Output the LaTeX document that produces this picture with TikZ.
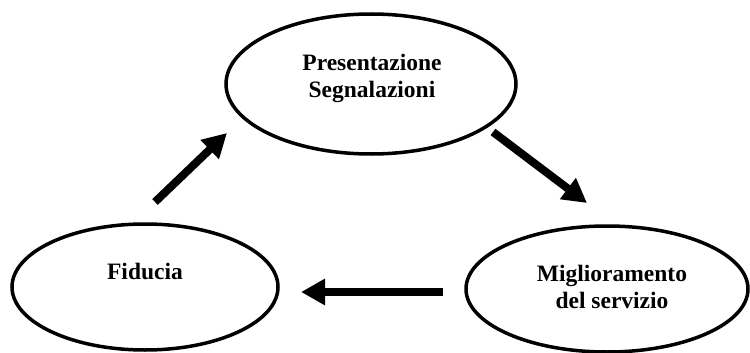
\documentclass[tikz,border=0pt]{standalone}
\usepackage{fontspec}
\setmainfont{Liberation Serif}
\usetikzlibrary{shapes.geometric,arrows.meta}
\begin{document}
\begin{tikzpicture}[x=1pt,y=-1pt,
  oval/.style={draw=black,line width=3.5pt,ellipse,inner sep=0pt},
  lbl/.style={font=\fontsize{23.5}{27}\selectfont\bfseries,align=center,inner sep=0pt},
  bigarrow/.style={line width=8pt,-{Triangle[length=24pt,width=25pt]}}]
\useasboundingbox (0,0) rectangle (750,353);
\node[oval,minimum width=290pt,minimum height=140pt] (top) at (371,84) {};
\node[oval,minimum width=266pt,minimum height=126pt] (left) at (145,287) {};
\node[oval,minimum width=282pt,minimum height=126pt] (right) at (607,289) {};
\node[lbl] (ttop) at (372,78) {Presentazione\\Segnalazioni};
\node[lbl] (tleft) at (145,271) {Fiducia};
\node[lbl] (tright) at (612,287) {Miglioramento\\del servizio};
\coordinate (a1s) at (155,202);
\coordinate (a1e) at (227,133);
\coordinate (a2s) at (493,132);
\coordinate (a2e) at (587,203);
\coordinate (a3s) at (443,292);
\coordinate (a3e) at (301,292);
\draw[bigarrow] (a1s) -- (a1e);
\draw[bigarrow] (a2s) -- (a2e);
\draw[bigarrow] (a3s) -- (a3e);
\end{tikzpicture}
\end{document}
